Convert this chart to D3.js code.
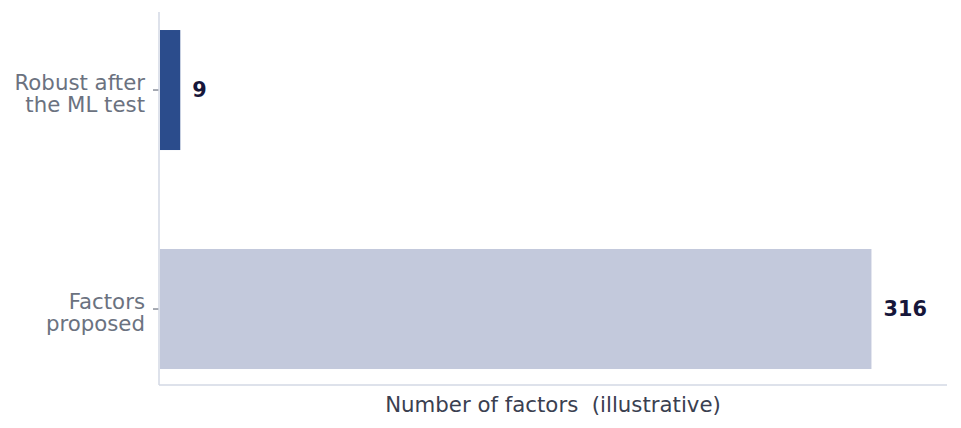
<!DOCTYPE html>
<html>
<head>
<meta charset="utf-8">
<script src="https://cdn.jsdelivr.net/npm/d3@7"></script>
<style>
  body { margin: 0; background: #fff; }
  svg text { font-family: "DejaVu Sans", sans-serif; white-space: pre; }
</style>
</head>
<body>
<div id="chart"></div>
<script>
/* data */
var categories = ["Robust after\nthe ML test", "Factors\nproposed"],
    values = [9, 316],
    barColors = ["#2b4c8c", "#c3c9dc"],
    xLabel = "Number of factors  (illustrative)";

/* size and margins */
var outerWidth = 961,
    outerHeight = 428,
    margin = { top: 12, right: 14, bottom: 43, left: 159 },
    innerWidth = outerWidth - margin.left - margin.right,
    innerHeight = outerHeight - margin.top - margin.bottom,
    fontSize = 21.3,
    lineGap = 22;

var svg = d3.select("#chart")
    .append("svg")
    .attr("width", outerWidth)
    .attr("height", outerHeight),
    main = svg.append("g")
    .attr("transform", "translate(" + margin.left + "," + margin.top + ")");

/* scales */
var x = d3.scaleLinear()
    .domain([0, 350])
    .range([0, innerWidth]),
    y = d3.scaleBand()
    .domain(categories)
    .range([0, innerHeight])
    .paddingInner(0.452)
    .paddingOuter(0.0776)
    .align(0.53);

/* bars */
main.append("g")
    .selectAll("rect")
    .data(values)
    .join("rect")
    .attr("x", 1)
    .attr("y", (d, i) => y(categories[i]))
    .attr("width", d => x(d))
    .attr("height", y.bandwidth())
    .attr("fill", (d, i) => barColors[i]);

/* value labels */
main.append("g")
    .selectAll("text")
    .data(values)
    .join("text")
    .attr("x", d => x(d) + 13)
    .attr("y", (d, i) => y(categories[i]) + y.bandwidth() / 2)
    .attr("dy", "0.33em")
    .attr("font-size", fontSize - 0.5)
    .attr("font-weight", "bold")
    .attr("fill", "#16163a")
    .text(d => d);

/* y axis */
var yAxis = main.append("g")
    .call(d3.axisLeft(y).tickSize(6).tickFormat(""));
yAxis.select(".domain").remove();
yAxis.selectAll(".tick line")
    .attr("stroke", "#6b7280")
    .attr("stroke-width", 1.2);

main.append("line")
    .attr("x1", 0).attr("x2", 0)
    .attr("y1", 0).attr("y2", innerHeight)
    .attr("stroke", "#d3d8e4")
    .attr("stroke-width", 1.5);

// multi-line category labels, one text per line
yAxis.selectAll(".tick")
    .each(function(d) {
        var lines = d.split("\n"),
            t = d3.select(this);
        lines.forEach((l, i) => {
            t.append("text")
                .attr("x", -14)
                .attr("y", i * lineGap - 0.5)
                .attr("text-anchor", "end")
                .attr("fill", "#6b7280")
                .attr("font-size", fontSize)
                .text(l);
        });
    });

/* x axis */
main.append("line")
    .attr("x1", 0).attr("x2", innerWidth)
    .attr("y1", innerHeight).attr("y2", innerHeight)
    .attr("stroke", "#d3d8e4")
    .attr("stroke-width", 1.5);

main.append("text")
    .attr("x", innerWidth / 2)
    .attr("y", innerHeight + 27)
    .attr("text-anchor", "middle")
    .attr("font-size", fontSize)
    .attr("fill", "#3a4050")
    .text(xLabel);
</script>
</body>
</html>
